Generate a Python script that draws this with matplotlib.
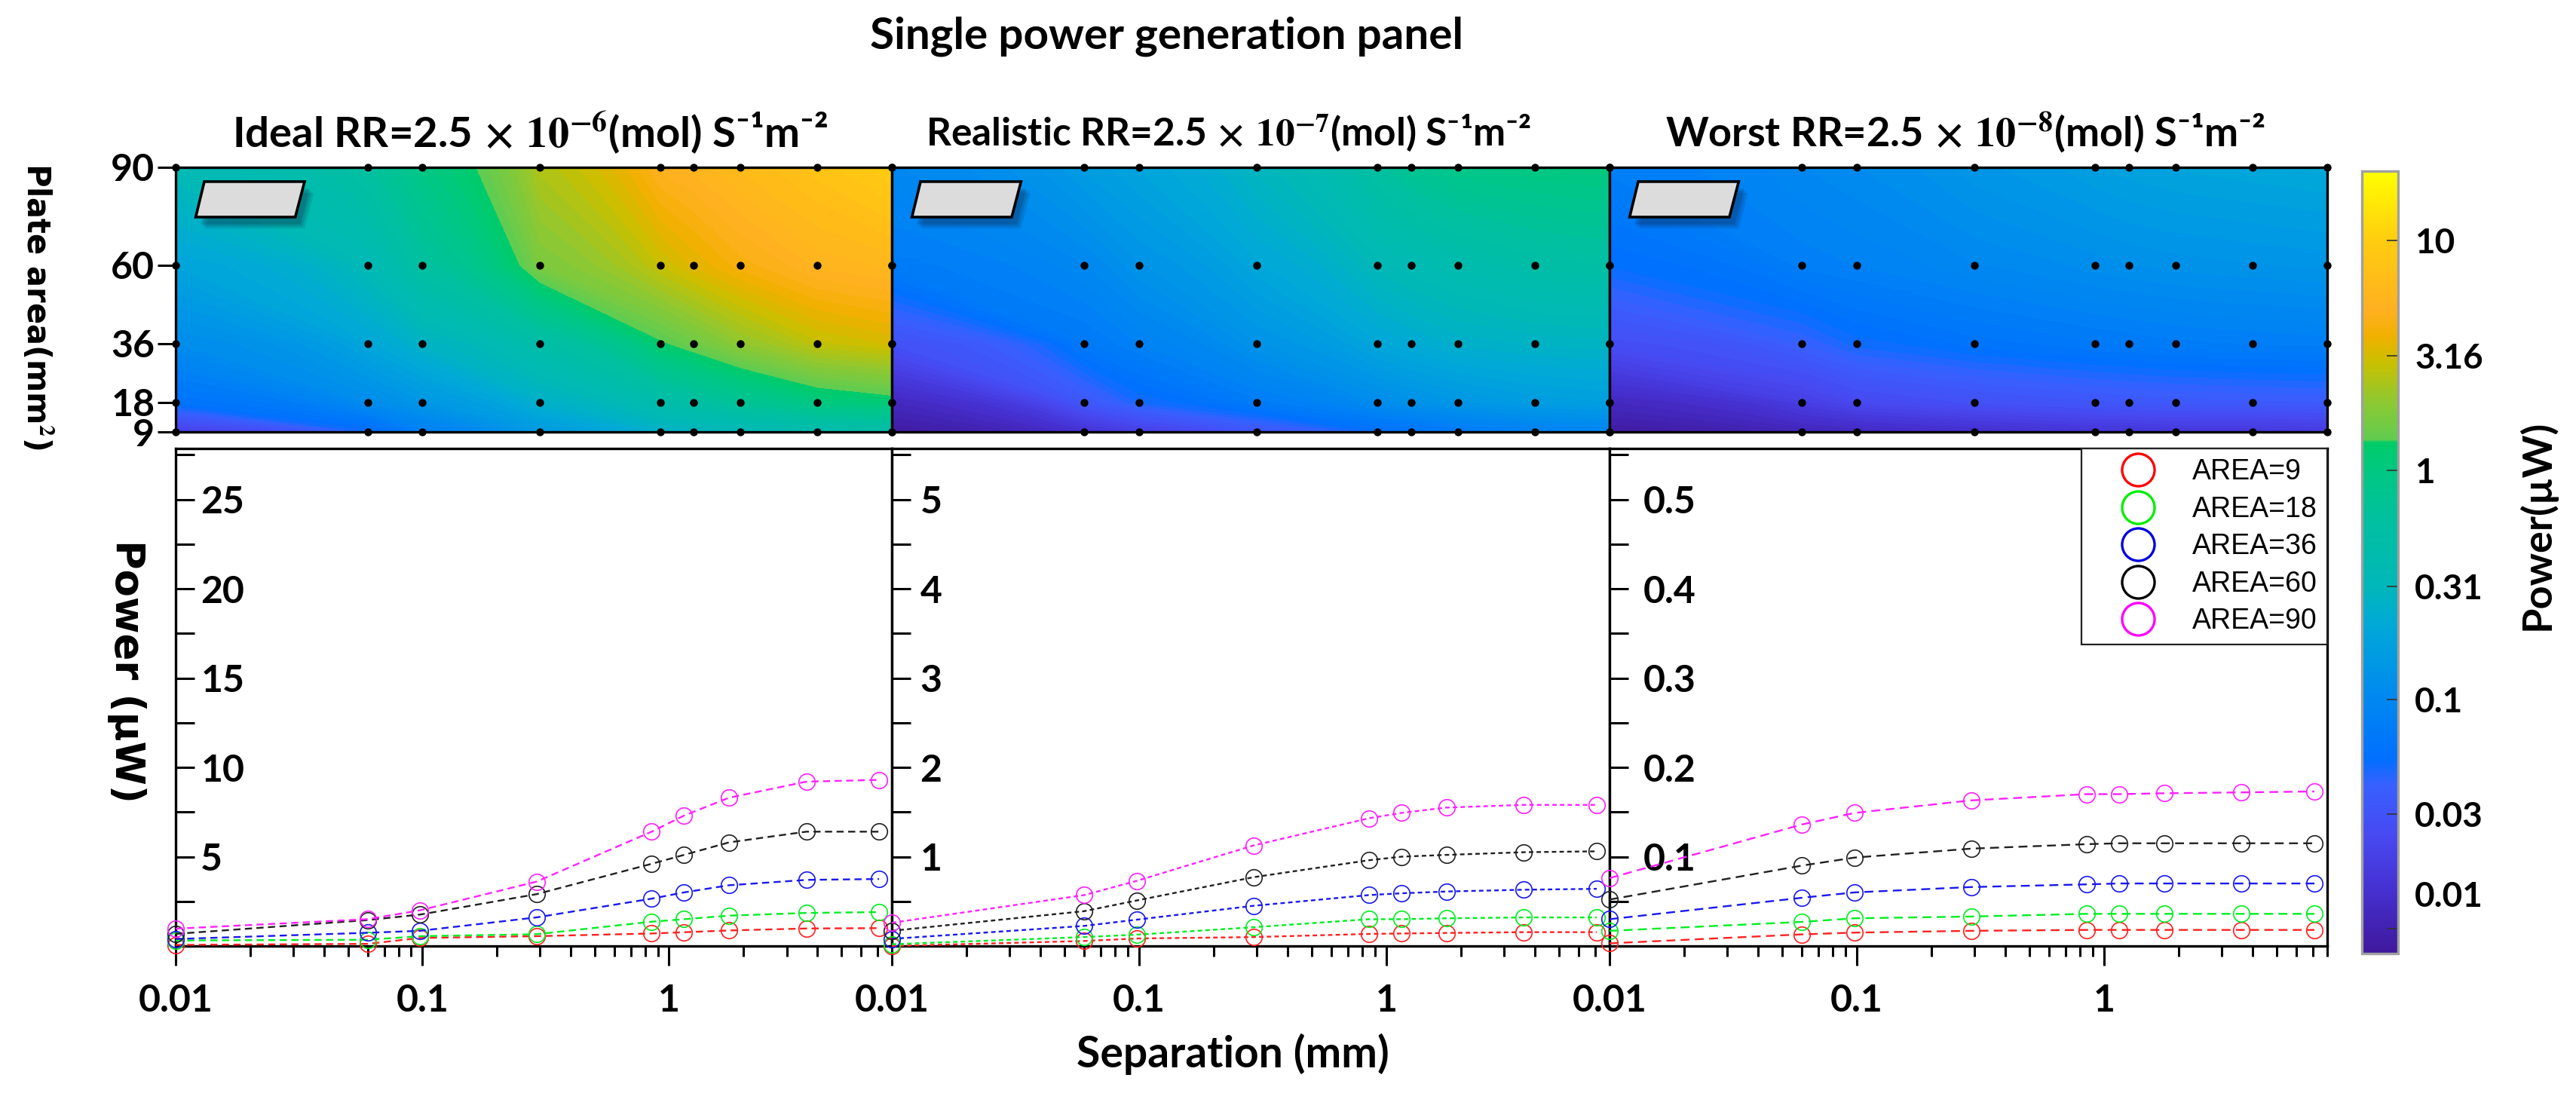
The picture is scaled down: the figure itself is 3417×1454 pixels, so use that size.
import numpy as np
import matplotlib
matplotlib.use('Agg')
import matplotlib.pyplot as plt
import matplotlib.patheffects as pe
from matplotlib.colors import LinearSegmentedColormap, LogNorm, Normalize
from matplotlib.cm import ScalarMappable
from matplotlib.lines import Line2D
from matplotlib.patches import Polygon
from matplotlib.ticker import MultipleLocator, LogLocator, NullFormatter

W, H = 3417, 1454

# separations of the line markers and of the heatmap dots
separation = [0.01, 0.06, 0.098, 0.29, 0.85, 1.15, 1.75, 3.6, 7.1]
heat_separation = [0.01, 0.06, 0.1, 0.3, 0.92, 1.26, 1.95, 4, 8]
areas = [9, 18, 36, 60, 90]
area_colors = ['#ff2020', '#00ee20', '#1818f0', '#202020', '#ff20ff']

ideal_lines = [
    [0.06, 0.12, 0.45, 0.55, 0.7, 0.77, 0.87, 0.98, 1.0],
    [0.31, 0.35, 0.55, 0.66, 1.36, 1.5, 1.7, 1.85, 1.9],
    [0.39, 0.74, 0.85, 1.6, 2.65, 3.0, 3.4, 3.7, 3.75],
    [0.68, 1.45, 1.76, 2.9, 4.6, 5.1, 5.8, 6.4, 6.4],
    [0.97, 1.5, 2.0, 3.6, 6.4, 7.3, 8.3, 9.2, 9.3],
]
realistic_lines = [
    [0.0, 0.056, 0.084, 0.1, 0.135, 0.14, 0.146, 0.155, 0.155],
    [0.02, 0.1, 0.127, 0.21, 0.3, 0.3, 0.31, 0.32, 0.32],
    [0.08, 0.225, 0.295, 0.45, 0.57, 0.59, 0.61, 0.63, 0.64],
    [0.17, 0.39, 0.51, 0.77, 0.96, 1.0, 1.02, 1.05, 1.06],
    [0.26, 0.57, 0.73, 1.125, 1.43, 1.49, 1.55, 1.58, 1.58],
]
worst_lines = [
    [0.003, 0.013, 0.015, 0.017, 0.018, 0.018, 0.018, 0.018, 0.018],
    [0.017, 0.027, 0.031, 0.033, 0.036, 0.036, 0.036, 0.036, 0.036],
    [0.03, 0.054, 0.06, 0.066, 0.069, 0.07, 0.07, 0.07, 0.07],
    [0.052, 0.09, 0.099, 0.109, 0.114, 0.115, 0.115, 0.115, 0.115],
    [0.076, 0.136, 0.149, 0.163, 0.17, 0.17, 0.171, 0.172, 0.173],
]

ideal_heat = [
    [0.02, 0.05, 0.08, 0.15, 0.25, 0.28, 0.32, 0.4, 0.45],
    [0.06, 0.11, 0.14, 0.25, 0.45, 0.55, 0.7, 1.0, 1.15],
    [0.11, 0.2, 0.27, 0.5, 1.25, 1.5, 2.0, 2.8, 3.2],
    [0.19, 0.35, 0.6, 1.7, 2.9, 3.5, 4.3, 5.5, 6.0],
    [0.35, 0.62, 0.95, 2.5, 5.0, 5.5, 6.5, 8.0, 10.0],
]
realistic_heat = [
    [0.0085, 0.015, 0.02, 0.033, 0.055, 0.06, 0.07, 0.085, 0.09],
    [0.012, 0.035, 0.05, 0.075, 0.11, 0.125, 0.14, 0.16, 0.17],
    [0.03, 0.07, 0.085, 0.13, 0.2, 0.22, 0.25, 0.27, 0.28],
    [0.075, 0.1, 0.13, 0.2, 0.33, 0.37, 0.42, 0.5, 0.55],
    [0.1, 0.16, 0.19, 0.3, 0.6, 0.75, 0.9, 1.0, 1.05],
]
worst_heat = [
    [0.0085, 0.011, 0.012, 0.014, 0.016, 0.016, 0.017, 0.017, 0.018],
    [0.012, 0.02, 0.025, 0.03, 0.034, 0.035, 0.036, 0.037, 0.038],
    [0.028, 0.042, 0.052, 0.062, 0.07, 0.072, 0.075, 0.078, 0.08],
    [0.055, 0.08, 0.085, 0.1, 0.115, 0.12, 0.125, 0.13, 0.135],
    [0.08, 0.1, 0.11, 0.14, 0.17, 0.18, 0.19, 0.2, 0.21],
]

panel_titles = [
    'Ideal RR=2.5$\\,\\times\\,\\mathbf{10^{-6}}$(mol) S⁻¹m⁻²',
    'Realistic RR=2.5$\\,\\times\\,\\mathbf{10^{-7}}$(mol) S⁻¹m⁻²',
    'Worst RR=2.5$\\,\\times\\,\\mathbf{10^{-8}}$(mol) S⁻¹m⁻²',
]
title_sizes = [40.5, 37, 39]
y_ticks = [[5, 10, 15, 20, 25], [1, 2, 3, 4, 5], [0.1, 0.2, 0.3, 0.4, 0.5]]
y_tick_labels = [['5', '10', '15', '20', '25'], ['1', '2', '3', '4', '5'],
                 ['0.1', '0.2', '0.3', '0.4', '0.5']]
y_tops = [27.85, 5.57, 0.557]
y_minor = [2.5, 0.5, 0.05]
y_pads = [-24, -27, -32]
dashes = [(4, 2.5), (2.5, 1.8), (5, 3)]
bar_ticks = [0.03162, 0.1, 0.31, 1, 3.16, 10]
bar_tick_labels = ['0.03', '0.1', '0.31', '1', '3.16', '10']

cmap_stops = [
    (0.0, '#40189c'), (0.08, '#4530d0'), (0.147, '#4848f0'), (0.215, '#3860ff'),
    (0.249, '#0070ff'), (0.326, '#0088f0'), (0.418, '#00a8d8'), (0.472, '#00b8b8'),
    (0.553, '#00c0a0'), (0.62, '#00c880'), (0.654, '#00cc66'), (0.657, '#60cc50'),
    (0.708, '#90c830'), (0.755, '#c8c000'), (0.789, '#f0b000'), (0.823, '#ffb020'),
    (0.911, '#ffcc10'), (1.0, '#ffff00'),
]
power_cmap = LinearSegmentedColormap.from_list('power', cmap_stops, N=512)
vmin, vmax = 0.0078, 20.1

plt.rcParams['font.family'] = ['Lato', 'DejaVu Sans']
plt.rcParams['font.weight'] = 'bold'
plt.rcParams['mathtext.fontset'] = 'stix'


def px_axes(fig, left, top, right, bottom):
    return fig.add_axes([left / W, 1 - bottom / H, (right - left) / W, (bottom - top) / H])


def px_text(fig, x, y, s, **kw):
    fig.text(x / W, 1 - y / H, s, ha='center', va='center', fontweight='bold', **kw)


def draw_heat(ax, values):
    logz = np.log10(np.array(values))
    levels = np.linspace(np.log10(vmin), np.log10(vmax), 90)
    ax.contourf(heat_separation, areas, logz, levels=levels, cmap=power_cmap,
                norm=Normalize(np.log10(vmin), np.log10(vmax)), extend='both')
    ax.set_xscale('log')
    ax.set_xlim(0.01, 8)
    ax.set_ylim(9, 90)
    xx, yy = np.meshgrid(heat_separation, areas)
    ax.plot(xx.ravel(), yy.ravel(), 'o', color='k', ms=7.5, mew=0, ls='none',
            clip_on=False, zorder=5)
    ax.xaxis.set_major_locator(plt.NullLocator())
    ax.xaxis.set_minor_locator(plt.NullLocator())
    for s in ax.spines.values():
        s.set_linewidth(2.4)
    # small plate sketch, the stacked shadows give a soft edge
    plate = Polygon([(0.040, 0.946), (0.180, 0.946), (0.167, 0.812), (0.028, 0.812)],
                    closed=True, transform=ax.transAxes, facecolor='#dcdcdc',
                    edgecolor='k', lw=2.6, zorder=4)
    plate.set_path_effects([
        pe.SimplePatchShadow(offset=(9, -11), alpha=0.12, shadow_rgbFace='#102040'),
        pe.SimplePatchShadow(offset=(7, -9), alpha=0.15, shadow_rgbFace='#102040'),
        pe.SimplePatchShadow(offset=(5, -7), alpha=0.2, shadow_rgbFace='#102040'),
        pe.Normal()])
    ax.add_patch(plate)


def draw_lines(ax, values, i):
    for area_vals, c in zip(values, area_colors):
        ax.plot(separation, area_vals, color=c, lw=1.7, ls=(0, dashes[i]), marker='o',
                ms=15.5, mfc='none', mec=c, mew=1.2, clip_on=False, zorder=3)
    ax.set_xscale('log')
    ax.set_xlim(0.01, 8)
    ax.set_ylim(0, y_tops[i])
    ax.set_xticks([0.01, 0.1, 1])
    ax.set_xticklabels(['0.01', '0.1', '1'], fontsize=36, fontweight='bold')
    ax.xaxis.set_minor_locator(LogLocator(base=10, subs=range(2, 10), numticks=12))
    ax.xaxis.set_minor_formatter(NullFormatter())
    ax.tick_params(axis='x', which='major', direction='out', length=19, width=2.2, pad=17)
    ax.tick_params(axis='x', which='minor', direction='out', length=10, width=2.2)
    ax.set_yticks(y_ticks[i])
    ax.set_yticklabels(y_tick_labels[i], fontsize=36, fontweight='bold', ha='left')
    ax.yaxis.set_minor_locator(MultipleLocator(y_minor[i]))
    ax.tick_params(axis='y', which='both', direction='in', length=18, width=2.2, pad=y_pads[i])
    for s in ax.spines.values():
        s.set_linewidth(2.4)


fig = plt.figure(figsize=(W / 100, H / 100), dpi=100, facecolor='white')
edges = [233, 1183, 2135, 3087]
heat_sets = [ideal_heat, realistic_heat, worst_heat]
line_sets = [ideal_lines, realistic_lines, worst_lines]
title_x = [703, 1629, 2607]

line_axes = []
for i in range(3):
    ax_h = px_axes(fig, edges[i], 222, edges[i + 1], 573)
    draw_heat(ax_h, heat_sets[i])
    if i == 0:
        ax_h.set_yticks(areas)
        ax_h.set_yticklabels([str(a) for a in areas], fontsize=36, fontweight='bold')
        ax_h.tick_params(axis='y', direction='out', length=17, width=2.2, pad=3)
    else:
        ax_h.set_yticks([])
    ax_l = px_axes(fig, edges[i], 595, edges[i + 1], 1255)
    draw_lines(ax_l, line_sets[i], i)
    line_axes.append(ax_l)
    px_text(fig, title_x[i], 176, panel_titles[i], fontsize=title_sizes[i])

# legend sits in the corner of the last panel
handles = [Line2D([], [], ls='none', marker='o', ms=31, mfc='none', mec=c, mew=2.4)
           for c in ['#ff0000', '#00ee00', '#0000e0', '#000000', '#ff00ff']]
leg = line_axes[2].legend(handles, ['AREA=%d' % a for a in areas], loc='upper right',
                          bbox_to_anchor=(1, 1), borderaxespad=0, fancybox=False,
                          framealpha=1, edgecolor='#222222', labelspacing=0.36,
                          handletextpad=0.27, borderpad=0.35, handlelength=3.3,
                          prop={'family': 'Liberation Sans', 'size': 27, 'weight': 'normal'})
leg.get_frame().set_linewidth(1.6)
leg.set_zorder(6)

# colorbar
cax = px_axes(fig, 3133, 227, 3181, 1265)
sm = ScalarMappable(norm=LogNorm(vmin, vmax), cmap=power_cmap)
cb = fig.colorbar(sm, cax=cax)
cb.outline.set_edgecolor('#a0a0a0')
cb.outline.set_linewidth(2.4)
cb.set_ticks(bar_ticks + [0.01], labels=bar_tick_labels + [''])
cb.ax.minorticks_off()
cb.ax.tick_params(axis='y', direction='in', length=11, width=1.2, color='#333333', pad=16,
                  labelsize=33)
for t in cb.ax.get_yticklabels():
    t.set_fontweight('bold')
# the 0.01 label stands above its tick in the reference
cax.text(1.46, 0.0138, '0.01', transform=cax.get_yaxis_transform(), fontsize=33,
         fontweight='bold', va='center', ha='left')

px_text(fig, 1547, 48, 'Single power generation panel', fontsize=42)
px_text(fig, 1635, 1398, 'Separation (mm)', fontsize=41)
px_text(fig, 50, 406, 'Plate area(mm$\\mathbf{^2}$)', fontsize=30, rotation=-90, family='DejaVu Sans')
px_text(fig, 168, 890, 'Power (µW)', fontsize=38, rotation=-90, family='DejaVu Sans')
px_text(fig, 3365, 696, 'Power(µW)', fontsize=39, rotation=90)

fig.savefig('out.png', dpi=100)
